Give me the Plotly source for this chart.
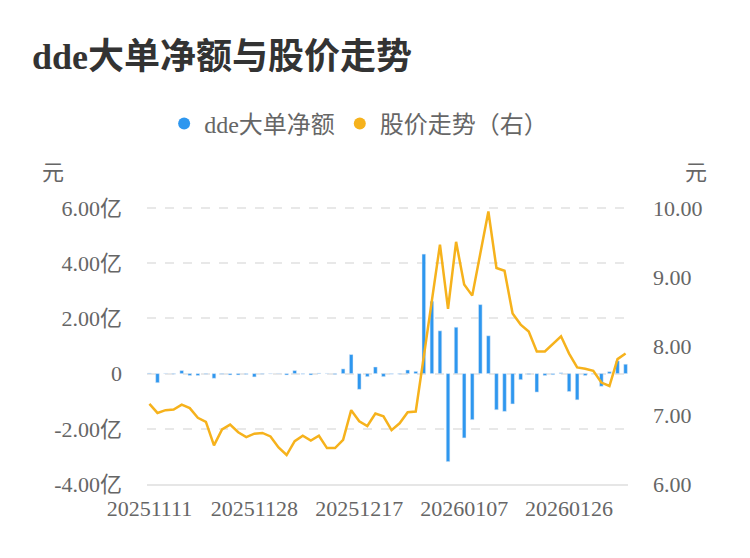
import plotly.graph_objects as go

# trading days shown on the category axis
dates = [
    "20251111", "20251112", "20251113", "20251114", "20251117", "20251118",
    "20251119", "20251120", "20251121", "20251124", "20251125", "20251126",
    "20251127", "20251128", "20251201", "20251202", "20251203", "20251204",
    "20251205", "20251208", "20251209", "20251210", "20251211", "20251212",
    "20251215", "20251216", "20251217", "20251218", "20251219", "20251222",
    "20251223", "20251224", "20251225", "20251226", "20251229", "20251230",
    "20251231", "20260105", "20260106", "20260107", "20260108", "20260109",
    "20260112", "20260113", "20260114", "20260115", "20260116", "20260119",
    "20260120", "20260121", "20260122", "20260123", "20260126", "20260127",
    "20260128", "20260129", "20260130", "20260202", "20260203", "20260204",
]

# dde net amount of large orders, in 亿
dde_net = [
    0.02, -0.33, 0.01, -0.02, 0.11, -0.07, -0.07, -0.02, -0.17, -0.02,
    -0.05, -0.05, -0.03, -0.12, -0.02, -0.01, 0.01, -0.05, 0.11, -0.02,
    -0.05, 0.02, 0.01, -0.03, 0.17, 0.69, -0.57, -0.11, 0.24, -0.11,
    -0.02, -0.02, 0.13, 0.08, 4.33, 2.62, 1.55, -3.19, 1.68, -2.33,
    -1.67, 2.50, 1.37, -1.31, -1.37, -1.10, -0.22, -0.03, -0.67, -0.07,
    -0.04, 0.03, -0.65, -0.95, -0.07, -0.02, -0.46, 0.07, 0.46, 0.34,
]

# closing price, 元
price = [
    7.16, 7.03, 7.07, 7.08, 7.15, 7.10, 6.96, 6.90, 6.56, 6.79,
    6.86, 6.75, 6.68, 6.73, 6.74, 6.69, 6.53, 6.42, 6.62, 6.70,
    6.63, 6.70, 6.52, 6.52, 6.64, 7.07, 6.91, 6.84, 7.02, 6.98,
    6.78, 6.88, 7.04, 7.05, 7.85, 8.66, 9.47, 8.54, 9.51, 8.89,
    8.73, 9.34, 9.95, 9.13, 9.09, 8.47, 8.31, 8.21, 7.92, 7.92,
    8.03, 8.14, 7.89, 7.69, 7.67, 7.64, 7.47, 7.42, 7.81, 7.89,
]

left_ticks = [-4, -2, 0, 2, 4, 6]
left_labels = ["-4.00亿", "-2.00亿", "0", "2.00亿", "4.00亿", "6.00亿"]
right_ticks = [6, 7, 8, 9, 10]
x_ticks = ["20251111", "20251128", "20251217", "20260107", "20260126"]

BLUE = "#2E97EF"
ORANGE = "#F6B21C"
FONT = "Liberation Serif, Noto Sans CJK SC, sans-serif"
CJK = "Noto Sans CJK SC, sans-serif"

# the page body adds 8px around the figure, so everything is placed 8px up/left.
# a little headroom above the top tick keeps its gridline from being clipped.
fig = go.Figure()
fig.add_bar(x=dates, y=dde_net, marker_color=BLUE, width=0.45,
            showlegend=False, yaxis="y")
fig.add_scatter(x=dates, y=price, mode="lines", yaxis="y2",
                line=dict(color=ORANGE, width=2.5), showlegend=False)

# legend entries drawn as round dots
fig.add_scatter(x=[None], y=[None], mode="markers", name="dde大单净额",
                marker=dict(color=BLUE, size=12, symbol="circle"))
fig.add_scatter(x=[None], y=[None], mode="markers", name="股价走势（右）",
                marker=dict(color=ORANGE, size=12, symbol="circle"))

fig.update_layout(
    width=750,
    height=558,
    margin=dict(l=139, r=130, t=197, b=82),
    plot_bgcolor="white",
    paper_bgcolor="white",
    font=dict(family=FONT, size=22, color="#666666"),
    title=dict(
        text="<b>dde大单净额与股价走势</b>",
        x=24 / 750, xanchor="left", xref="container",
        y=1 - 48 / 558, yanchor="middle", yref="container",
        font=dict(family=FONT, size=36, color="#333333"),
    ),
    legend=dict(
        orientation="h",
        x=0.44, xanchor="center",
        y=(484 - 124) / 279, yanchor="middle",
        font=dict(family=FONT, size=24, color="#666666"),
        itemwidth=30,
        bgcolor="rgba(0,0,0,0)",
    ),
    xaxis=dict(
        type="category",
        range=[-0.3, 59.3],
        tickvals=x_ticks,
        ticktext=x_ticks,
        showgrid=False,
        showline=True,
        linecolor="#e6e6e6",
        linewidth=1.5,
        ticks="",
        ticklabelstandoff=4,
        tickfont=dict(size=22, color="#666666"),
    ),
    yaxis=dict(
        range=[-4, 6.109],
        tickvals=left_ticks,
        ticktext=left_labels,
        showgrid=True,
        gridcolor="#e8e8e8",
        griddash="dash",
        gridwidth=1.5,
        zeroline=False,
        ticks="",
        ticklabelstandoff=24,
        tickfont=dict(size=22, color="#666666"),
    ),
    yaxis2=dict(
        overlaying="y",
        side="right",
        range=[6, 10.0435],
        tickvals=right_ticks,
        tickformat=".2f",
        showgrid=False,
        zeroline=False,
        ticks="",
        ticklabelstandoff=24,
        tickfont=dict(size=22, color="#666666"),
    ),
    annotations=[
        dict(text="元", xref="paper", yref="paper",
             x=(53 - 147) / 481, y=(484 - 170) / 279,
             xanchor="center", yanchor="middle",
             showarrow=False, font=dict(family=CJK, size=22, color="#666666")),
        dict(text="元", xref="paper", yref="paper",
             x=(696 - 147) / 481, y=(484 - 170) / 279,
             xanchor="center", yanchor="middle",
             showarrow=False, font=dict(family=CJK, size=22, color="#666666")),
    ],
)

fig.write_html("out.html")
